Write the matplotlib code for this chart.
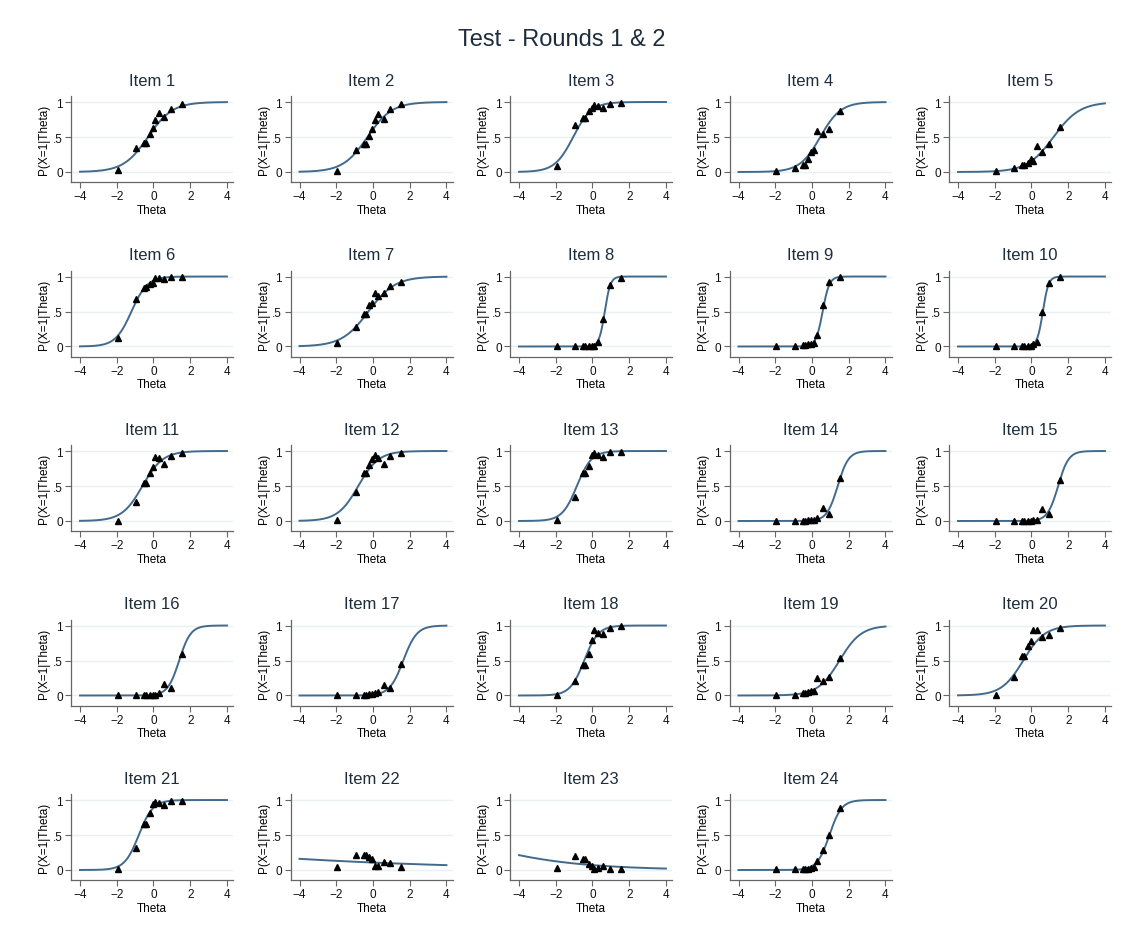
import matplotlib
matplotlib.use("Agg")
import matplotlib.pyplot as plt
import numpy as np

plt.rcParams["font.family"] = ["Liberation Sans Narrow", "Liberation Sans", "DejaVu Sans"]

TITLE = "Test - Rounds 1 & 2"
ITEMS = [f"Item {i}" for i in range(1, 25)]

# 2PL item parameters (discrimination, difficulty)
disc = [1.5, 1.5, 2.0, 1.8, 1.4, 2.3, 1.38, 6.5, 5.5, 6.5, 1.8, 1.8,
        2.5, 3.4, 3.5, 3.2, 2.7, 2.6, 1.7, 1.7, 2.6, -0.117, -0.32, 3.0]
diff = [-0.3, -0.3, -1.05, 0.45, 1.2, -1.2, -0.25, 0.67, 0.58, 0.62, -0.6, -0.8,
        -0.85, 1.4, 1.45, 1.4, 1.65, -0.45, 1.5, -0.45, -0.8, -18.2, -8.1, 0.95]

# observed proportions at group mean theta
theta_obs = [-1.95, -0.95, -0.5, -0.4, -0.2, -0.05, 0.1, 0.28, 0.6, 0.95, 1.55]
obs_p = [
    [0.03, 0.34, 0.42, 0.42, 0.55, 0.63, 0.75, 0.85, 0.78, 0.90, 0.97],
    [0.02, 0.32, 0.40, 0.40, 0.52, 0.61, 0.75, 0.83, 0.76, 0.90, 0.97],
    [0.08, 0.67, 0.77, 0.77, 0.87, 0.91, 0.96, 0.95, 0.92, 0.97, 0.98],
    [0.01, 0.06, 0.10, 0.10, 0.18, 0.28, 0.32, 0.58, 0.54, 0.61, 0.87],
    [0.01, 0.06, 0.10, 0.10, 0.13, 0.18, 0.16, 0.37, 0.29, 0.40, 0.64],
    [0.12, 0.68, 0.84, 0.85, 0.90, 0.91, 0.98, 0.98, 0.96, 0.99, 0.99],
    [0.05, 0.28, 0.46, 0.46, 0.60, 0.62, 0.76, 0.72, 0.76, 0.86, 0.92],
    [0.01, 0.01, 0.01, 0.01, 0.01, 0.01, 0.01, 0.07, 0.40, 0.88, 0.98],
    [0.01, 0.01, 0.02, 0.02, 0.03, 0.04, 0.05, 0.17, 0.60, 0.92, 0.99],
    [0.01, 0.01, 0.01, 0.01, 0.01, 0.01, 0.03, 0.07, 0.50, 0.91, 0.99],
    [0.00, 0.27, 0.55, 0.55, 0.68, 0.77, 0.92, 0.90, 0.81, 0.93, 0.97],
    [0.02, 0.42, 0.69, 0.69, 0.80, 0.88, 0.95, 0.90, 0.82, 0.93, 0.97],
    [0.01, 0.34, 0.69, 0.69, 0.78, 0.95, 0.97, 0.95, 0.91, 0.98, 0.99],
    [0.00, 0.00, 0.00, 0.00, 0.01, 0.01, 0.02, 0.04, 0.19, 0.10, 0.61],
    [0.00, 0.00, 0.00, 0.00, 0.00, 0.00, 0.01, 0.02, 0.17, 0.10, 0.58],
    [0.00, 0.00, 0.00, 0.00, 0.00, 0.00, 0.01, 0.03, 0.17, 0.10, 0.60],
    [0.00, 0.00, 0.01, 0.01, 0.02, 0.02, 0.03, 0.05, 0.15, 0.10, 0.45],
    [0.01, 0.21, 0.44, 0.44, 0.60, 0.79, 0.93, 0.90, 0.88, 0.96, 0.99],
    [0.01, 0.01, 0.03, 0.03, 0.05, 0.07, 0.06, 0.25, 0.20, 0.27, 0.53],
    [0.01, 0.26, 0.57, 0.57, 0.71, 0.78, 0.93, 0.93, 0.83, 0.87, 0.96],
    [0.01, 0.31, 0.66, 0.66, 0.81, 0.94, 0.97, 0.96, 0.93, 0.99, 0.99],
    [0.04, 0.21, 0.21, 0.21, 0.18, 0.16, 0.05, 0.05, 0.12, 0.10, 0.04],
    [0.03, 0.20, 0.16, 0.16, 0.09, 0.05, 0.02, 0.03, 0.06, 0.02, 0.02],
    [0.01, 0.01, 0.01, 0.01, 0.02, 0.03, 0.04, 0.13, 0.28, 0.50, 0.89],
]

x_ticks = [-4, -2, 0, 2, 4]
y_ticks = [0, 0.5, 1]
y_ticklabels = ["0", ".5", "1"]

W, H = 1124, 945
fig = plt.figure(figsize=(W / 100, H / 100), dpi=100)
fig.patch.set_facecolor("white")
fig.text(0.5, 1 - 40 / H, TITLE, ha="center", va="center", fontsize=17, color="#1e2d3c")

curve_color = "#426a8c"
grid_color = "#eaf1f3"
axis_color = "#666666"
theta = np.linspace(-4, 4, 300)

for k, name in enumerate(ITEMS):
    row, col = divmod(k, 5)
    left = 71 + 219.5 * col
    top = 97 + 174.5 * row
    ax = fig.add_axes([left / W, 1 - (top + 86) / H, 162 / W, 86 / H])

    p = 1 / (1 + np.exp(-disc[k] * (theta - diff[k])))
    ax.plot(theta, p, color=curve_color, lw=1.4, zorder=3)
    ax.plot(theta_obs, obs_p[k], "^", color="black", ms=4.2, zorder=4)

    ax.set_xlim(-4.49, 4.33)
    ax.set_ylim(-0.143, 1.086)
    ax.set_xticks(x_ticks)
    ax.set_yticks(y_ticks)
    ax.set_yticklabels(y_ticklabels)
    for y in y_ticks:
        ax.axhline(y, color=grid_color, lw=1, zorder=1)
    for s in ["top", "right"]:
        ax.spines[s].set_visible(False)
    for s in ["left", "bottom"]:
        ax.spines[s].set_color(axis_color)
        ax.spines[s].set_linewidth(0.9)
    ax.tick_params(labelsize=8.5, length=4, width=0.8, colors=axis_color, labelcolor="#111111", pad=2)
    ax.set_title(name, fontsize=12, color="#1e2d3c", pad=8)
    ax.set_xlabel("Theta", fontsize=8.5, labelpad=1)
    ax.set_ylabel("P(X=1|Theta)", fontsize=8.5, labelpad=2)

fig.savefig("out.png", dpi=100, facecolor="white")
